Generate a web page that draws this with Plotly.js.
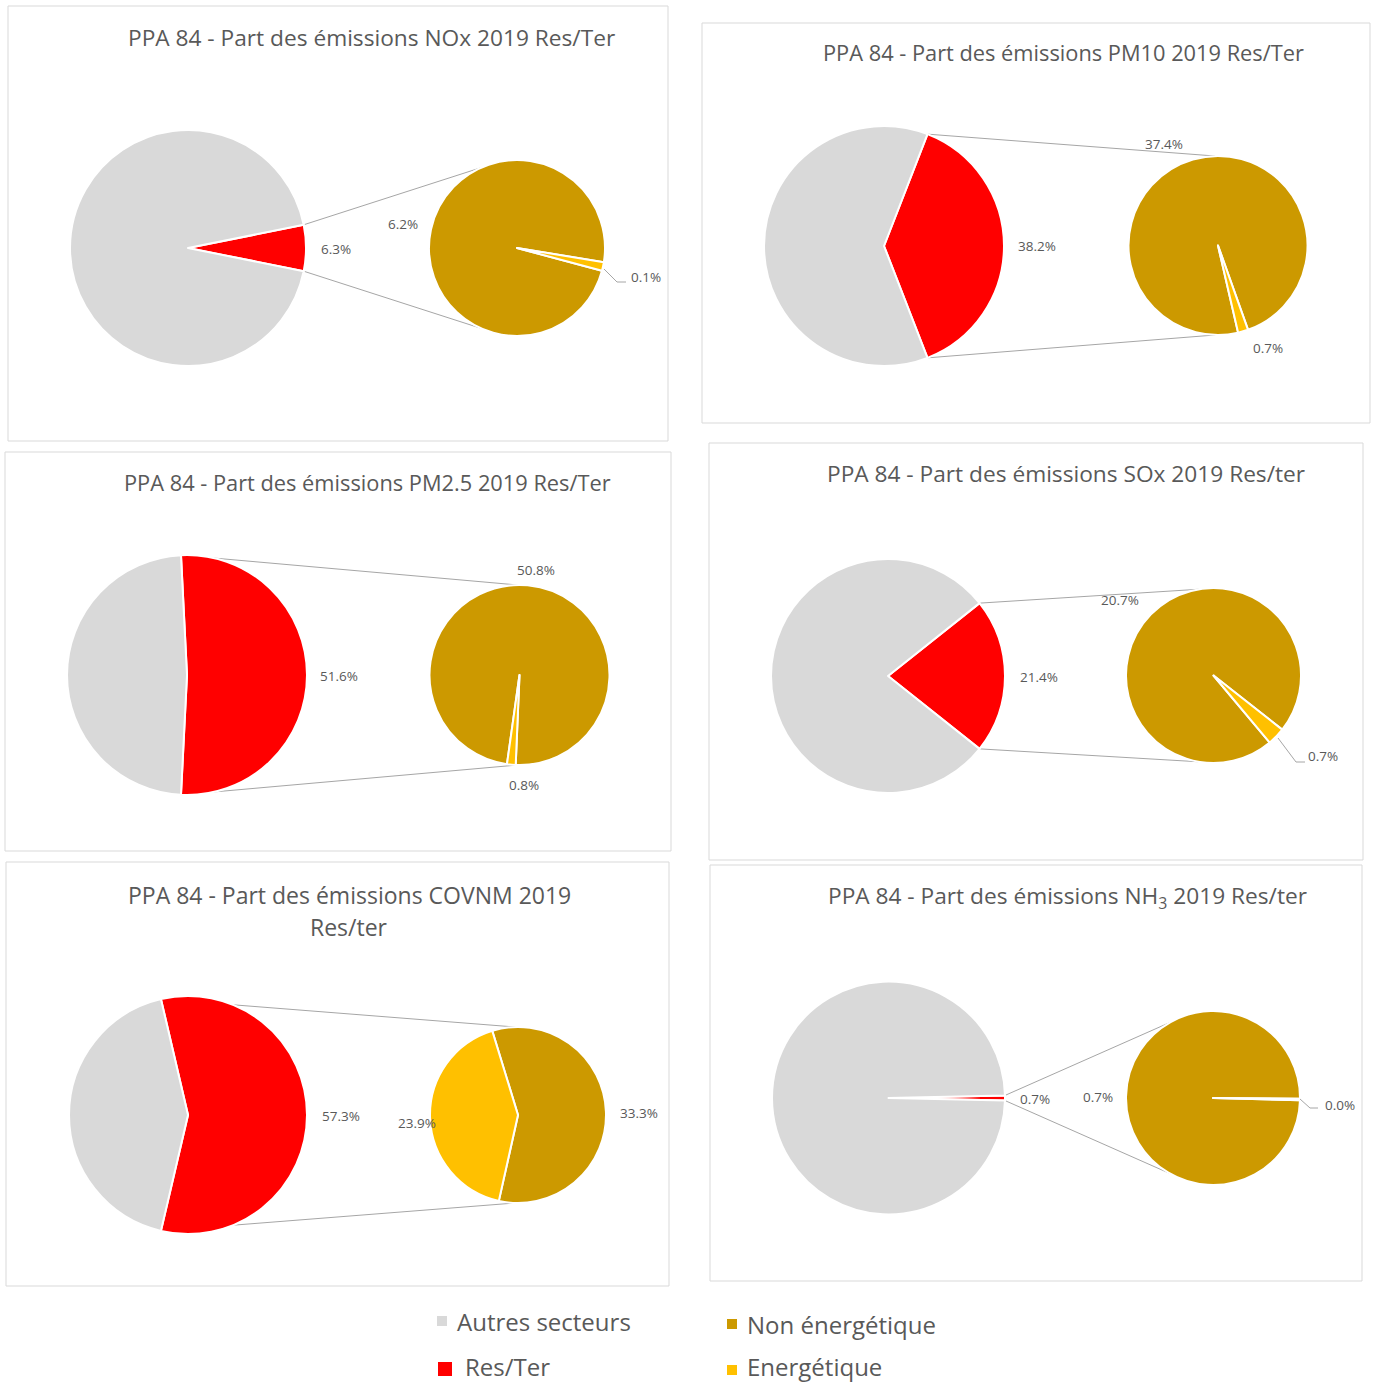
<!DOCTYPE html>
<html><head><meta charset="utf-8">
<script src="https://cdn.plot.ly/plotly-3.0.1.min.js"></script>
<style>html,body{margin:0;padding:0;background:#fff;} #chart{width:1373px;height:1384px;}</style>
</head><body><div id="chart"></div>
<script>
// ---------- DATA ----------
const pollutants = ['NOx', 'PM10', 'PM2.5', 'SOx', 'COVNM', 'NH3'];
const titles = [
  'PPA 84 - Part des émissions NOx 2019 Res/Ter',
  'PPA 84 - Part des émissions PM10 2019 Res/Ter',
  'PPA 84 - Part des émissions PM2.5 2019 Res/Ter',
  'PPA 84 - Part des émissions SOx 2019 Res/ter',
  'PPA 84 - Part des émissions COVNM 2019<br>Res/ter',
  'PPA 84 - Part des émissions NH<sub>3</sub> 2019 Res/ter'
];
const mainLabels = ['Res/Ter', 'Autres secteurs'];
const subLabels = ['Non énergétique', 'Energétique'];
const resTer = [6.3, 38.2, 51.6, 21.4, 57.3, 0.7];
const autresSecteurs = [93.7, 61.8, 48.4, 78.6, 42.7, 99.3];
const nonEnergetique = [6.2, 37.4, 50.8, 20.7, 33.3, 0.7];
const energetique = [0.1, 0.7, 0.8, 0.7, 23.9, 0.002];

// ---------- LAYOUT / STYLE ----------
const W = 1373, H = 1384;
const COLORS = {autres: '#d9d9d9', res: '#ff0000', non: '#cc9900', en: '#ffc000'};
const TXT = '#595959';
const panels = [
  {box: [8, 6, 668, 441], title: [371, 38], tsize: 22.7, big: [188, 248, 118], small: [517, 248, 88], rot: 105,
   lblRes: [336, 249], lblNon: [403, 224], lblEn: [646, 277], leader: [[604, 269], [617, 282], [626, 282]]},
  {box: [702, 23, 1370, 423], title: [1063, 52], tsize: 21.8, big: [884, 246, 120], small: [1218, 245.5, 89.5], rot: 167,
   lblRes: [1037, 246], lblNon: [1164, 144], lblEn: [1268, 348], leader: null},
  {box: [5, 452, 671, 851], title: [368, 482], tsize: 21.8, big: [187, 675, 120], small: [519.5, 675, 90], rot: 188,
   lblRes: [339, 676], lblNon: [536, 570], lblEn: [524, 785], leader: null},
  {box: [709, 443, 1363, 860], title: [1066, 474], tsize: 22.7, big: [888, 676, 117], small: [1213.5, 675.5, 87.5], rot: 140,
   lblRes: [1039, 677], lblNon: [1120, 600], lblEn: [1323, 756], leader: [[1278, 738], [1296, 762], [1305, 762]]},
  {box: [6, 862, 669, 1286], title: [349, 911], tsize: 23, big: [188, 1115, 119], small: [518, 1115, 88], rot: 343,
   lblRes: [341, 1116], lblNon: [639, 1113], lblEn: [417, 1123], leader: null},
  {box: [710, 865, 1362, 1281], title: [1067, 897], tsize: 22.7, big: [888.5, 1098, 116.5], small: [1213, 1098, 87], rot: 91.5,
   lblRes: [1035, 1099], lblNon: [1098, 1097], lblEn: [1340, 1105], leader: [[1300, 1099], [1310, 1108], [1318, 1108]]}
];
const TITLE_LINE_GAP = 32;

const px = x => x / W;
const py = y => 1 - y / H;
const fmt = v => v.toFixed(1) + '%';
const rad = a => a * Math.PI / 180;

const data = [];
const shapes = [];
const annotations = [];

panels.forEach((p, i) => {
  // panel border
  shapes.push({type: 'rect', xref: 'paper', yref: 'paper', layer: 'below',
    x0: px(p.box[0]), x1: px(p.box[2]), y0: py(p.box[3]), y1: py(p.box[1]),
    line: {color: '#d9d9d9', width: 1}, fillcolor: 'rgba(0,0,0,0)'});

  const [bx, by, br] = p.big;
  const [sx, sy, sr] = p.small;
  const share = resTer[i] / (resTer[i] + autresSecteurs[i]);

  data.push({
    type: 'pie', name: pollutants[i], labels: mainLabels, values: [resTer[i], autresSecteurs[i]],
    sort: false, direction: 'clockwise', rotation: 90 - 180 * share,
    marker: {colors: [COLORS.res, COLORS.autres], line: {color: '#ffffff', width: 2}},
    textinfo: 'none', hoverinfo: 'label+value', showlegend: false,
    domain: {x: [px(bx - br), px(bx + br)], y: [py(by + br), py(by - br)]}
  });
  data.push({
    type: 'pie', name: pollutants[i] + ' Res/Ter', labels: subLabels, values: [nonEnergetique[i], energetique[i]],
    sort: false, direction: 'clockwise', rotation: p.rot,
    marker: {colors: [COLORS.non, COLORS.en], line: {color: '#ffffff', width: 2}},
    textinfo: 'none', hoverinfo: 'label+value', showlegend: false,
    domain: {x: [px(sx - sr), px(sx + sr)], y: [py(sy + sr), py(sy - sr)]}
  });

  // connector lines from the Res/Ter slice edges to the secondary pie
  const half = 180 * share;
  [[90 - half, 1], [90 + half, -1]].forEach(([a, sgn]) => {
    const P = [bx + br * Math.sin(rad(a)), by - br * Math.cos(rad(a))];
    const dx = P[0] - sx, dy = P[1] - sy;
    const d = Math.hypot(dx, dy);
    const phi = Math.atan2(dx, -dy) * 180 / Math.PI;
    const t = phi + sgn * (Math.acos(sr / d) * 180 / Math.PI - 6);
    const Q = [sx + sr * Math.sin(rad(t)), sy - sr * Math.cos(rad(t))];
    shapes.push({type: 'line', xref: 'paper', yref: 'paper', layer: 'below',
      x0: px(P[0]), y0: py(P[1]), x1: px(Q[0]), y1: py(Q[1]),
      line: {color: '#a6a6a6', width: 1}});
  });

  // title (one annotation per line for exact line spacing)
  const lines = titles[i].split('<br>');
  lines.forEach((ln, k) => {
    const yy = p.title[1] + (k - (lines.length - 1) / 2) * TITLE_LINE_GAP;
    annotations.push({xref: 'paper', yref: 'paper', x: px(p.title[0]), y: py(yy),
      xanchor: 'center', yanchor: 'middle', text: ln, showarrow: false,
      font: {family: 'Open Sans, sans-serif', size: p.tsize, color: TXT}});
  });

  // data labels
  [[p.lblRes, resTer[i]], [p.lblNon, nonEnergetique[i]], [p.lblEn, energetique[i]]].forEach(([pos, v]) => {
    annotations.push({xref: 'paper', yref: 'paper', x: px(pos[0]), y: py(pos[1]),
      xanchor: 'center', yanchor: 'middle', text: fmt(v), showarrow: false,
      font: {family: 'Open Sans, sans-serif', size: 13.5, color: TXT}});
  });
  if (p.leader) {
    const L = p.leader;
    shapes.push({type: 'path', xref: 'paper', yref: 'paper',
      path: 'M ' + L.map(q => px(q[0]) + ',' + py(q[1])).join(' L '),
      line: {color: '#a6a6a6', width: 1}});
  }
});

// legend
const legendItems = [
  {label: mainLabels[1], color: COLORS.autres, sq: [437, 1316, 447, 1326], tx: [455, 1321]},
  {label: mainLabels[0], color: COLORS.res, sq: [438, 1362, 452, 1376], tx: [463, 1366]},
  {label: subLabels[0], color: COLORS.non, sq: [727, 1319, 737, 1329], tx: [745, 1324]},
  {label: subLabels[1], color: COLORS.en, sq: [727, 1365, 737, 1375], tx: [745, 1366]}
];
legendItems.forEach(it => {
  shapes.push({type: 'rect', xref: 'paper', yref: 'paper',
    x0: px(it.sq[0]), x1: px(it.sq[2]), y0: py(it.sq[3]), y1: py(it.sq[1]),
    line: {width: 0}, fillcolor: it.color});
  annotations.push({xref: 'paper', yref: 'paper', x: px(it.tx[0]), y: py(it.tx[1]),
    xanchor: 'left', yanchor: 'middle', text: it.label, showarrow: false,
    font: {family: 'Open Sans, sans-serif', size: 24, color: TXT}});
});

const layout = {
  width: W, height: H, margin: {l: 0, r: 0, t: 0, b: 0},
  paper_bgcolor: '#ffffff', plot_bgcolor: '#ffffff',
  showlegend: false, shapes, annotations
};
Plotly.newPlot('chart', data, layout, {staticPlot: true, displayModeBar: false});
</script>
</body></html>
